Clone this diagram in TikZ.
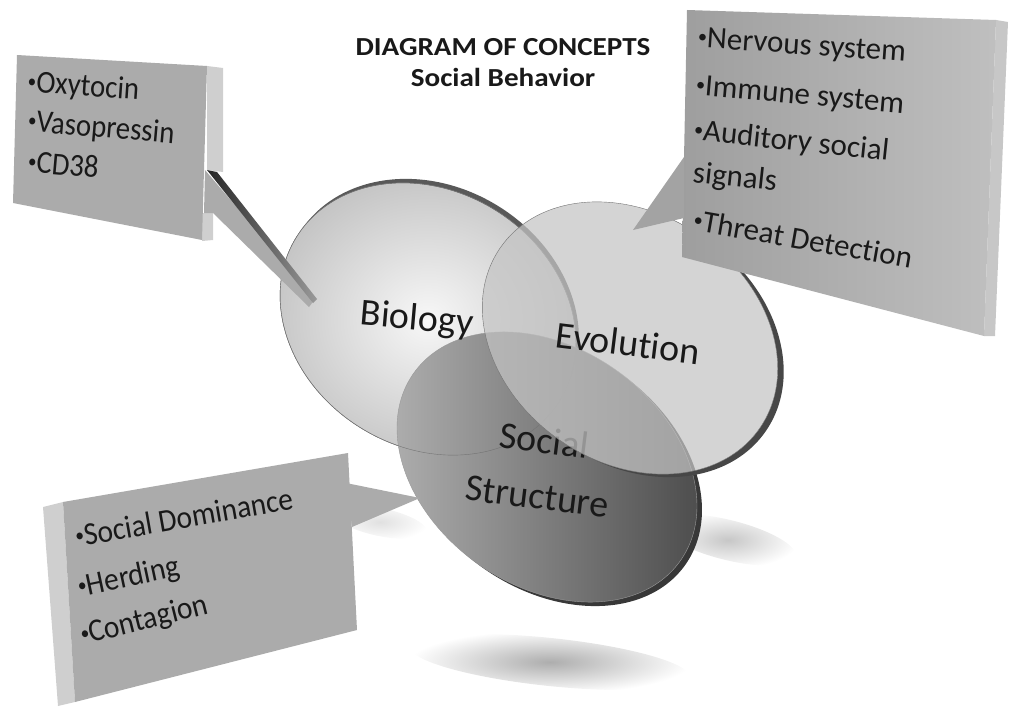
\documentclass[tikz,border=0pt]{standalone}
\usepackage{fontspec}
\usepackage{graphicx}
\setmainfont{Carlito}[Ligatures=NoCommon]
\usetikzlibrary{calc}
\newcommand{\bul}{\raisebox{0.14em}{\scalebox{0.6}{•}}}

\begin{document}
\begin{tikzpicture}[x=1pt,y=-1pt,
    boxfront/.style={fill=black!33},
    boxside/.style={fill=black!19},
    itemtext/.style={anchor=base west, inner sep=0pt, text=black!90, font=\fontsize{31}{37}\selectfont},
    ringtext/.style={inner sep=0pt, text=black!90, font=\fontsize{38}{56}\selectfont},
    titletext/.style={inner sep=0pt, text=black!90, font=\bfseries\fontsize{26}{30}\selectfont, xscale=1.12}]
    \useasboundingbox (0,0) rectangle (1010,709);

    \coordinate (bio) at (428,319);
    \coordinate (bior) at (431,315);
    \coordinate (soc) at (547,467);
    \coordinate (socr) at (552,471);
    \coordinate (evo) at (630,338);
    \coordinate (evor) at (636,341);

    % shadows on the floor
    \shade[inner color=black!32, outer color=white, rotate around={-6:(550,662)}] (550,662) ellipse (140 and 24);
    \shade[inner color=black!22, outer color=white, rotate around={-14:(728,540)}] (728,540) ellipse (70 and 20);
    \shade[inner color=black!12, outer color=white, rotate around={-12:(380,522)}] (380,522) ellipse (48 and 14);

    \node[titletext] (title) at (503,47) {DIAGRAM OF CONCEPTS};
    \node[titletext] (subtitle) at (503,77) {Social Behavior};

    % the three discs
    \fill[black!65, rotate around={-32:(bior)}] (bior) ellipse (155 and 128);
    \shadedraw[inner color=black!3, outer color=black!24, draw=black!60, rotate around={-32:(bio)}] (bio) ellipse (155 and 128);

    \fill[black!78, rotate around={-35:(socr)}] (socr) ellipse (163 and 119);
    \shadedraw[left color=black!30, right color=black!72, draw=black!40, rotate around={-35:(soc)}] (soc) ellipse (163 and 119);
    \draw[black!55, rotate around={-32:(bio)}] (bio) ellipse (155 and 128);

    \node[ringtext, rotate=-5] (biotext) at (417,320) {Biology};
    \node[ringtext, rotate=-7, align=center] (soctext) at (541,468) {Social\\Structure};

    \begin{scope}[rotate around={-35:(evo)}, even odd rule]
      \clip (-500,-500) rectangle (1500,1300) (evo) ellipse (158 and 124);
      \fill[black!72] (evor) ellipse (158 and 124);
    \end{scope}
    \filldraw[fill=black!23, fill opacity=0.72, draw=black!55, rotate around={-35:(evo)}] (evo) ellipse (158 and 124);
    \node[ringtext, rotate=-7] (evotext) at (628,343) {Evolution};

    % callout for biology
    \fill[boxside] (207,66) -- (223,68) -- (223,172) -- (207,170) -- cycle;
    \fill[boxside] (202,213) -- (213,213) -- (213,240) -- (202,241) -- cycle;
    \fill[boxfront] (17,55) -- (207,66) -- (202,240) -- (13,203) -- cycle;
    \fill[boxfront] (205,170) -- (315,299) -- (309,307) -- (213,213) -- (204,213) -- cycle;
    \shade[left color=black!85, right color=black!40] (207,170) -- (217,172) -- (317,299) -- (313,303) -- cycle;
    \begin{scope}[itemtext, font=\fontsize{32}{37}\selectfont]
      \node[rotate=-4, xscale=0.9] (oxy) at (27,92) {\bul Oxytocin};
      \node[rotate=-5, xscale=0.9] (vaso) at (27,131) {\bul Vasopressin};
      \node[rotate=-5, xscale=0.9] (cd) at (27,172) {\bul CD38};
    \end{scope}

    % callout for evolution
    \fill[black!22] (996,20) -- (1008,22) -- (995,336) -- (984,336) -- cycle;
    \shade[left color=black!38, right color=black!25] (687,10) -- (996,20) -- (984,336) -- (682,257) -- cycle;
    \fill[black!36] (684,157) -- (633,230) -- (684,218) -- cycle;
    \node[itemtext, rotate=-4] (nerv) at (697,47) {\bul Nervous system};
    \node[itemtext, rotate=-5] (immu) at (695,95) {\bul Immune system};
    \node[itemtext, rotate=-6] (audi) at (693,140) {\bul Auditory social};
    \node[itemtext, rotate=-6] (sign) at (692,182) {signals};
    \node[itemtext, rotate=-10] (threat) at (692,230) {\bul Threat Detection};

    % callout for social structure
    \fill[boxside] (43,507) -- (63,502) -- (75,702) -- (58,706) -- cycle;
    \fill[boxfront] (63,502) -- (348,453) -- (357,630) -- (75,702) -- cycle;
    \fill[boxfront] (346,483) -- (420,498) -- (352,527) -- cycle;
    \begin{scope}[itemtext, font=\fontsize{32}{37}\selectfont]
      \node[rotate=10, xscale=0.92] (domi) at (77,547) {\bul Social Dominance};
      \node[rotate=12, xscale=0.92] (herd) at (80,597) {\bul Herding};
      \node[rotate=14, xscale=0.92] (conta) at (83,645) {\bul Contagion};
    \end{scope}
\end{tikzpicture}
\end{document}
